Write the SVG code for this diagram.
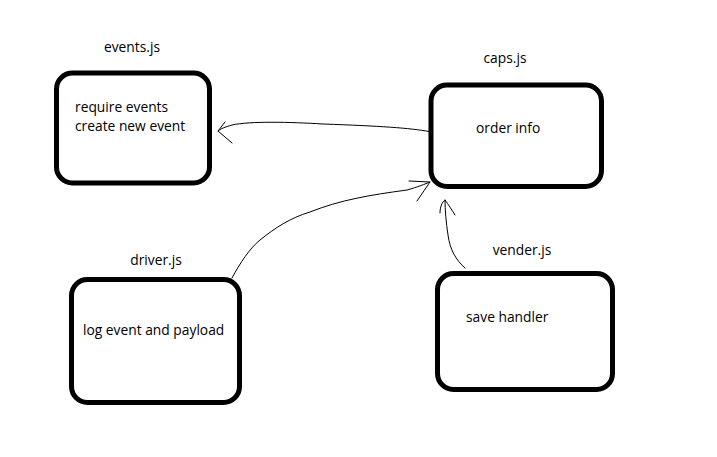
<svg xmlns="http://www.w3.org/2000/svg" width="717" height="457" viewBox="0 0 717 457">
  <style>
    .box { fill: #fff; stroke: #000; stroke-width: 5; }
    .lbl { font-family: "Open Sans", "Noto Sans", "DejaVu Sans", sans-serif; font-size: 13.8px; fill: #000; }
    .mid { text-anchor: middle; }
    .wire { fill: none; stroke: #000; stroke-width: 1; stroke-linecap: round; stroke-linejoin: round; }
  </style>
  <rect width="717" height="457" fill="#fff"/>

  <g id="events">
    <text class="lbl mid" x="132" y="52">events.js</text>
    <rect class="box" x="56.5" y="73" width="153" height="110" rx="16"/>
    <text class="lbl" x="75" y="112">require events</text>
    <text class="lbl" x="75" y="131">create new event</text>
  </g>

  <g id="caps">
    <text class="lbl mid" x="505" y="63">caps.js</text>
    <rect class="box" x="431" y="85" width="170.5" height="101.5" rx="16"/>
    <text class="lbl" x="476" y="133">order info</text>
  </g>

  <g id="driver">
    <text class="lbl mid" x="156" y="265">driver.js</text>
    <rect class="box" x="71.5" y="279.5" width="168" height="123" rx="16"/>
    <text class="lbl" x="83" y="335">log event and payload</text>
  </g>

  <g id="vender">
    <text class="lbl mid" x="522" y="255">vender.js</text>
    <rect class="box" x="437.5" y="273.5" width="175" height="116" rx="16"/>
    <text class="lbl" x="466" y="322">save handler</text>
  </g>

  <g id="connectors">
    <!-- caps.js to events.js -->
    <path class="wire" d="M429 131.5 C410 128 380 126 323 124 C290 122 250 121 232 125 C225 127 220 129 218 131"/>
    <path class="wire" d="M225 122 L218 131 L232 143"/>
    <!-- driver.js to caps.js -->
    <path class="wire" d="M232 278 C240 263 250 248 260 240 C275 228 290 218 310 212 C340 200 370 195 407 190 C418 187 425 184 430 182"/>
    <path class="wire" d="M409 181 L430 182 L417 201"/>
    <!-- vender.js to caps.js -->
    <path class="wire" d="M465 268 C456 260 450 250 448 235 C446 222 445 210 445 200"/>
    <path class="wire" d="M440 213 C440 207 442 202 445 200 C448 204 452 210 455 215"/>
  </g>
</svg>
